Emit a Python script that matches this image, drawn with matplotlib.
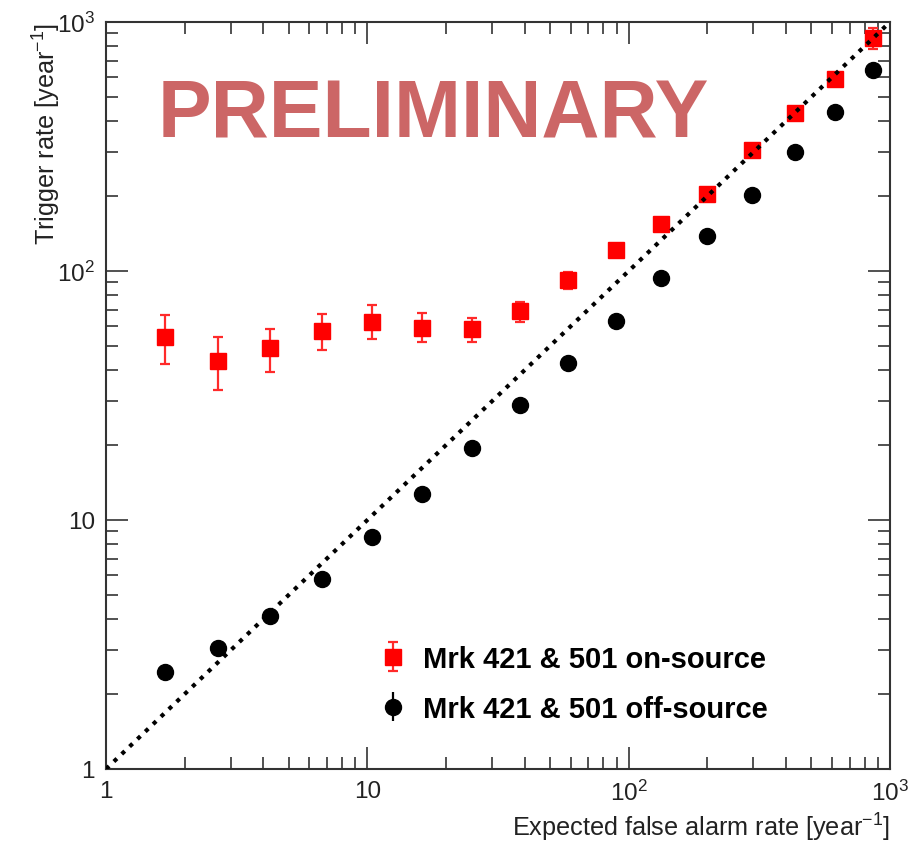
import numpy as np
import matplotlib.pyplot as plt
from matplotlib.ticker import LogLocator, NullFormatter, FixedLocator, FixedFormatter

plt.rcParams['font.family'] = ['Liberation Sans', 'DejaVu Sans']
plt.rcParams['mathtext.fontset'] = 'custom'
plt.rcParams['mathtext.rm'] = 'Liberation Sans'
plt.rcParams['mathtext.it'] = 'Liberation Sans'

# ---- data ----
far = [1.68, 2.68, 4.24, 6.71, 10.4, 16.2, 25.2, 38.4, 58.6, 89.4,
       133, 199, 296, 433, 616, 861]

on_rate = [54.3, 43.6, 49.1, 57.3, 62.4, 59.2, 58.3, 69.3, 92.0, 121,
           154, 203, 306, 430, 590, 860]
on_err_lo = [12.0, 10.4, 9.7, 9.0, 8.9, 7.5, 6.6, 6.9, 7.5, 6,
             7, 9, 12, 15, 18, 83]
on_err_hi = [12.3, 10.9, 9.2, 9.9, 10.8, 8.8, 6.4, 5.8, 7.5, 6,
             7, 9, 12, 15, 18, 84]

off_rate = [2.45, 3.06, 4.12, 5.80, 8.55, 12.7, 19.5, 29.0, 42.7, 63.0,
            93.7, 138, 202, 300, 435, 642]

diag = [1, 1000]

fig = plt.figure(figsize=(9.11, 8.45), dpi=100)
ax = fig.add_axes([0.1164, 0.0888, 0.977 - 0.1164, 0.9728 - 0.0888])

ax.errorbar(far, on_rate, yerr=[on_err_lo, on_err_hi], fmt='s', color='#ff0000',
            ecolor='#ff2a2a', markersize=11.5, elinewidth=1.6, capsize=3.5,
            capthick=1.6, label='Mrk 421 & 501 on-source', zorder=2)
ax.errorbar(far, off_rate, yerr=np.zeros(len(off_rate)), fmt='o', color='black',
            markersize=11.5, elinewidth=1.6, label='Mrk 421 & 501 off-source', zorder=2)
ax.plot(diag, diag, color='black', linestyle=(0, (1, 1.6)), linewidth=3, zorder=3)

ax.set_xscale('log')
ax.set_yscale('log')
ax.set_xlim(1, 1000)
ax.set_ylim(1, 1000)

for s in ax.spines.values():
    s.set_linewidth(1.5)
    s.set_color('#333333')

ax.tick_params(which='both', direction='in', top=True, right=True, color='#333333', width=1.2)
ax.tick_params(which='major', length=16, labelsize=17.5, pad=8, labelcolor='#222222')
ax.tick_params(which='minor', length=8.5)
ax.xaxis.set_major_locator(FixedLocator([1, 10, 100, 1000]))
ax.xaxis.set_major_formatter(FixedFormatter(['1', '10', r'$10^2$', r'$10^3$']))
ax.yaxis.set_major_locator(FixedLocator([1, 10, 100, 1000]))
ax.yaxis.set_major_formatter(FixedFormatter(['1', '10', r'$10^2$', r'$10^3$']))
ax.xaxis.set_minor_locator(LogLocator(base=10, subs=np.arange(2, 10)))
ax.yaxis.set_minor_locator(LogLocator(base=10, subs=np.arange(2, 10)))
ax.xaxis.set_minor_formatter(NullFormatter())
ax.yaxis.set_minor_formatter(NullFormatter())

ax.set_xlabel(r'Expected false alarm rate [year$^{-1}$]', fontsize=18.2, color='#222222',
              loc='right', labelpad=4)
ax.set_ylabel(r'Trigger rate [year$^{-1}$]', fontsize=18.2, color='#222222',
              loc='top')
ax.yaxis.set_label_coords(-0.075, 1.0)
ax.yaxis.label.set_verticalalignment('center')

ax.text(0.417, 0.875, 'PRELIMINARY', transform=ax.transAxes, fontsize=58,
        fontweight='bold', color='#cc6666', ha='center', va='center')

leg = ax.legend(loc='lower left', bbox_to_anchor=(0.335, 0.046), frameon=False,
                prop={'weight': 'bold', 'size': 21}, handletextpad=0.55,
                labelspacing=0.75, handlelength=0.9, borderaxespad=0)

fig.savefig('out.png', dpi=100)
